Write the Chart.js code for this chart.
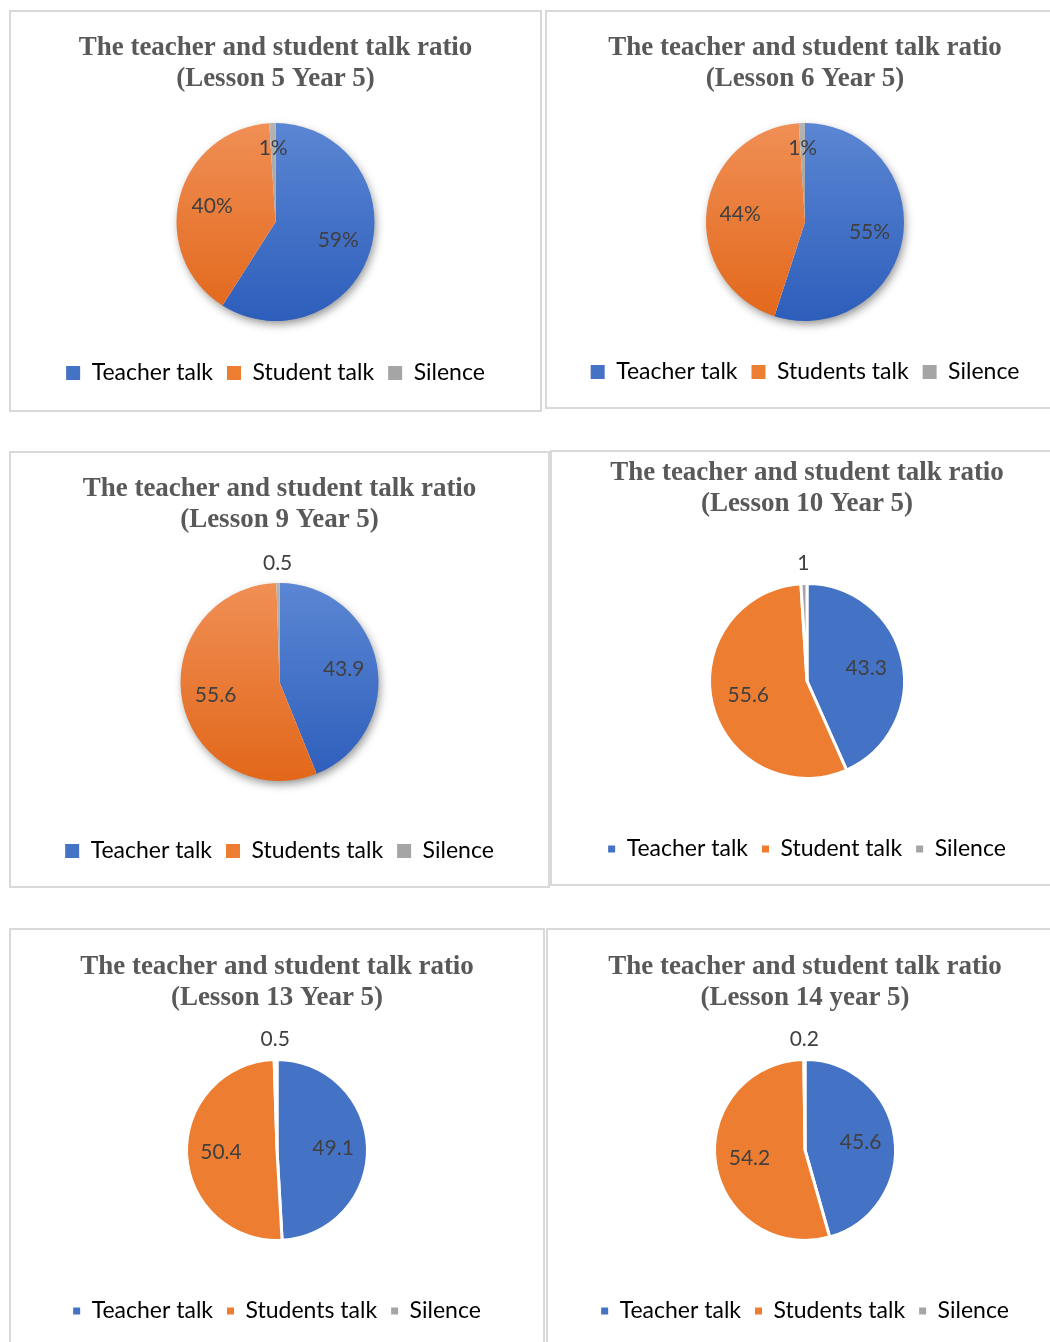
<!DOCTYPE html>
<html>
<head>
<meta charset="utf-8">
<title>Teacher and student talk ratio</title>
<script src="https://cdn.jsdelivr.net/npm/chart.js"></script>
<style>
  body { margin: 0; width: 1050px; height: 1342px; overflow: hidden; background: #fff; position: relative; }
  .panel { position: absolute; border: 2px solid #d9d9d9; box-sizing: border-box; }
  .panel canvas { position: absolute; left: -2px; top: -2px; }
</style>
</head>
<body>
<script>
// talk time per lesson (Year 5), same order in every array
const lessons = ['Lesson 5 Year 5', 'Lesson 6 Year 5', 'Lesson 9 Year 5', 'Lesson 10 Year 5', 'Lesson 13 Year 5', 'Lesson 14 year 5'];
const teacherTalk = [59, 55, 43.9, 43.3, 49.1, 45.6];
const studentTalk = [40, 44, 55.6, 55.6, 50.4, 54.2];
const silence = [1, 1, 0.5, 1, 0.5, 0.2];
const studentLabel = ['Student talk', 'Students talk', 'Students talk', 'Student talk', 'Students talk', 'Students talk'];
const teacherLabel = 'Teacher talk';
const silenceLabel = 'Silence';

// box placement and look of each chart
const panels = [
  { x: 9,   y: 10,  w: 533, h: 402, titleY: 38, cy: 212, r: 99, legendY: 363, shaded: true,  suffix: '%' },
  { x: 545, y: 10,  w: 520, h: 399, titleY: 38, cy: 212, r: 99, legendY: 362, shaded: true,  suffix: '%' },
  { x: 9,   y: 451, w: 541, h: 437, titleY: 38, cy: 231, r: 99, legendY: 400, shaded: true,  suffix: '' },
  { x: 550, y: 450, w: 514, h: 436, titleY: 23, cy: 231, r: 96, legendY: 399, shaded: false, suffix: '' },
  { x: 9,   y: 928, w: 536, h: 430, titleY: 39, cy: 222, r: 89, legendY: 383, shaded: false, suffix: '' },
  { x: 546, y: 928, w: 518, h: 430, titleY: 39, cy: 222, r: 89, legendY: 383, shaded: false, suffix: '' }
];

const flatColors = ['#4472c4', '#ed7d31', '#a5a5a5'];
const shadeTop = ['#5b86d3', '#f08f55', '#b4b4b4'];
const shadeBottom = ['#2d5ebb', '#e2671a', '#8a8a8a'];

const LINE_H = 31, TITLE_SIZE = 27, LEGEND_SIZE = 23, LEGEND_PAD = 14, LABEL_SIZE = 21;

// soft drop shadow under the whole pie
const pieShadow = {
  id: 'pieShadow',
  beforeDatasetsDraw(chart, args, opts) {
    if (!opts.enabled) return;
    const arc = chart.getDatasetMeta(0).data[0];
    if (!arc) return;
    const { x, y, outerRadius } = arc.getProps(['x', 'y', 'outerRadius'], true);
    const ctx = chart.ctx;
    ctx.save();
    ctx.shadowColor = 'rgba(0,0,0,0.45)';
    ctx.shadowBlur = 10;
    ctx.shadowOffsetX = 2;
    ctx.shadowOffsetY = 4;
    ctx.fillStyle = '#fff';
    ctx.beginPath();
    ctx.arc(x, y, outerRadius - 1, 0, Math.PI * 2);
    ctx.fill();
    ctx.restore();
  }
};

// value labels on the slices, tiny slices get theirs outside the pie
const sliceLabels = {
  id: 'sliceLabels',
  afterDatasetsDraw(chart, args, opts) {
    const ctx = chart.ctx;
    const values = chart.data.datasets[0].data;
    const total = values.reduce((a, b) => a + b, 0);
    ctx.save();
    ctx.font = LABEL_SIZE + 'px Lato, "Noto Sans", sans-serif';
    ctx.fillStyle = '#404040';
    ctx.textAlign = 'center';
    ctx.textBaseline = 'middle';
    chart.getDatasetMeta(0).data.forEach((arc, i) => {
      const { x, y, startAngle, endAngle, outerRadius } = arc.getProps(['x', 'y', 'startAngle', 'endAngle', 'outerRadius'], true);
      const mid = (startAngle + endAngle) / 2;
      let dist = outerRadius * opts.inner;
      if (values[i] / total < 0.03) dist = opts.outside ? outerRadius + 20 : outerRadius * 0.75;
      ctx.fillText(values[i] + opts.suffix, x + Math.cos(mid) * dist, y + Math.sin(mid) * dist);
    });
    ctx.restore();
  }
};

panels.forEach((p, k) => {
  const box = document.createElement('div');
  box.className = 'panel';
  box.style.left = p.x + 'px';
  box.style.top = p.y + 'px';
  box.style.width = p.w + 'px';
  box.style.height = p.h + 'px';
  const canvas = document.createElement('canvas');
  canvas.width = p.w;
  canvas.height = p.h;
  box.appendChild(canvas);
  document.body.appendChild(box);

  // work out paddings so the pie, title and legend land where wanted
  const legendTop = p.legendY - LEGEND_PAD - LEGEND_SIZE / 2;
  const legendH = LEGEND_SIZE + LEGEND_PAD + 10;
  const chartTop = 2 * p.cy - legendTop;
  const titlePadTop = p.titleY - LINE_H / 2;
  const titlePadBottom = chartTop - titlePadTop - 2 * LINE_H;
  const padBottom = p.h - legendTop - legendH;

  const labels = [teacherLabel, studentLabel[k], silenceLabel];
  const border = p.shaded ? 0 : 3;

  // vertical light-to-dark fill across the pie for the shaded charts
  const fill = (context) => {
    const i = context.dataIndex;
    const area = context.chart.chartArea;
    if (!p.shaded || !area) return flatColors[i];
    const cy = (area.top + area.bottom) / 2;
    const g = context.chart.ctx.createLinearGradient(0, cy - p.r, 0, cy + p.r);
    g.addColorStop(0, shadeTop[i]);
    g.addColorStop(1, shadeBottom[i]);
    return g;
  };

  new Chart(canvas, {
    type: 'pie',
    data: {
      labels: labels,
      datasets: [{
        data: [teacherTalk[k], studentTalk[k], silence[k]],
        backgroundColor: fill,
        borderColor: '#ffffff',
        borderWidth: border,
        radius: p.r + border / 2
      }]
    },
    options: {
      responsive: false,
      animation: false,
      events: [],
      layout: { padding: { top: 0, bottom: padBottom, left: 0, right: 0 } },
      plugins: {
        tooltip: { enabled: false },
        title: {
          display: true,
          text: ['The teacher and student talk ratio', '(' + lessons[k] + ')'],
          color: '#595959',
          font: { family: '"Liberation Serif", "Times New Roman", serif', size: TITLE_SIZE, weight: 'bold', lineHeight: LINE_H + 'px' },
          padding: { top: titlePadTop, bottom: titlePadBottom }
        },
        legend: {
          display: true,
          position: 'bottom',
          labels: {
            color: '#595959',
            font: { family: 'Lato, "Noto Sans", sans-serif', size: LEGEND_SIZE },
            padding: LEGEND_PAD,
            boxWidth: p.shaded ? 14 : 7,
            boxHeight: p.shaded ? 14 : 7,
            generateLabels: () => labels.map((text, i) => ({
              text: text,
              fillStyle: flatColors[i],
              strokeStyle: flatColors[i],
              lineWidth: 0,
              hidden: false,
              index: i
            }))
          }
        },
        pieShadow: { enabled: p.shaded },
        sliceLabels: { suffix: p.suffix, outside: k >= 2, inner: p.shaded ? 0.66 : 0.62 }
      }
    },
    plugins: [pieShadow, sliceLabels]
  });
});
</script>
</body>
</html>
